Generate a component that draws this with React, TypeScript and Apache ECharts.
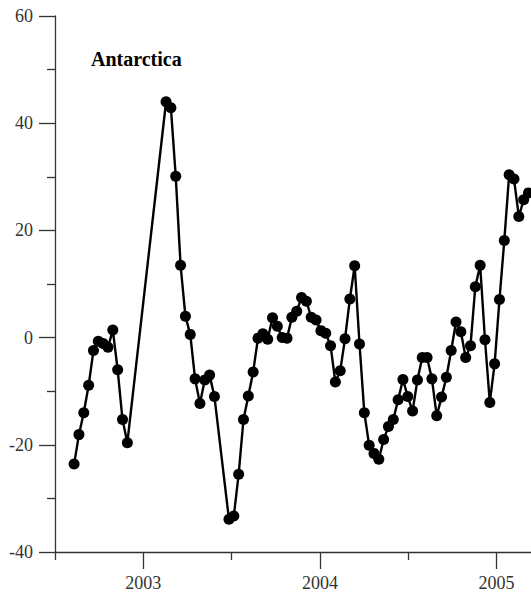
import React, { useEffect, useRef } from "react";
import * as echarts from "echarts";

// Sample dates (10-day spacing; gaps where no data)
const dates: string[] = [
  "2002-08-11", "2002-08-21", "2002-08-31", "2002-09-10", "2002-09-20", "2002-09-30",
  "2002-10-10", "2002-10-20", "2002-10-30", "2002-11-09", "2002-11-19", "2002-11-29",
  "2003-02-17", "2003-02-27", "2003-03-09", "2003-03-19", "2003-03-29", "2003-04-08",
  "2003-04-18", "2003-04-28", "2003-05-08", "2003-05-18", "2003-05-28",
  "2003-06-27", "2003-07-07", "2003-07-17", "2003-07-27", "2003-08-06", "2003-08-16",
  "2003-08-26", "2003-09-05", "2003-09-15", "2003-09-25", "2003-10-05", "2003-10-15",
  "2003-10-25", "2003-11-04", "2003-11-14", "2003-11-24", "2003-12-04", "2003-12-14",
  "2003-12-24", "2004-01-03", "2004-01-13", "2004-01-23", "2004-02-02", "2004-02-12",
  "2004-02-22", "2004-03-03", "2004-03-13", "2004-03-23", "2004-04-02", "2004-04-12",
  "2004-04-22", "2004-05-02", "2004-05-12", "2004-05-22", "2004-06-01", "2004-06-11",
  "2004-06-21", "2004-07-01", "2004-07-11", "2004-07-21", "2004-07-31", "2004-08-10",
  "2004-08-20", "2004-08-30", "2004-09-09", "2004-09-19", "2004-09-29", "2004-10-09",
  "2004-10-19", "2004-10-29", "2004-11-08", "2004-11-18", "2004-11-28", "2004-12-08",
  "2004-12-18", "2004-12-28", "2005-01-07", "2005-01-17", "2005-01-27", "2005-02-06",
  "2005-02-16", "2005-02-26", "2005-03-08",
];

const values: number[] = [
  -23.6, -18.1, -14.0, -8.9, -2.4, -0.7,
  -1.1, -1.8, 1.4, -6.0, -15.3, -19.6,
  44.0, 42.9, 30.1, 13.5, 4.0, 0.6,
  -7.7, -12.3, -7.9, -7.0, -11.0,
  -33.9, -33.3, -25.5, -15.3, -10.9, -6.4,
  -0.1, 0.7, -0.3, 3.7, 2.1, 0.0,
  -0.1, 3.8, 4.9, 7.5, 6.8, 3.8,
  3.3, 1.3, 0.8, -1.5, -8.3, -6.2,
  -0.2, 7.2, 13.4, -1.2, -14.0, -20.1,
  -21.6, -22.7, -19.0, -16.6, -15.3, -11.6,
  -7.8, -11.0, -13.7, -7.9, -3.7, -3.7,
  -7.7, -14.6, -11.1, -7.4, -2.4, 2.9,
  1.1, -3.7, -1.5, 9.5, 13.5, -0.4,
  -12.1, -4.9, 7.1, 18.1, 30.4, 29.6,
  22.6, 25.7, 27.0,
];

const yearTicks: number[] = [2003, 2004, 2005];
const halfYearTicks: number[] = [2002.5, 2003.5, 2004.5];
const titleText = "Antarctica";
const xMin = 2002.5;
const xMax = 2005.195;

function toFractionalYear(d: string): number {
  const [y, m, day] = d.split("-").map(Number);
  const start = Date.UTC(y, 0, 1);
  const end = Date.UTC(y + 1, 0, 1);
  const t = Date.UTC(y, m - 1, day);
  return y + (t - start) / (end - start);
}

const FONT = "'Liberation Serif', 'Times New Roman', serif";
const AXIS_COLOR = "#333";

export default function App() {
  const ref = useRef<HTMLDivElement>(null);
  useEffect(() => {
    if (!ref.current) return;
    const chart = echarts.init(ref.current, null, { renderer: "svg" });
    const data = dates.map((d, i) => [toFractionalYear(d), values[i]]);
    chart.setOption({
      animation: false,
      grid: { left: 55, top: 16, bottom: 42, right: 0, containLabel: false },
      graphic: [
        {
          type: "text",
          x: 91,
          y: 59,
          style: {
            text: titleText,
            font: `bold 20px ${FONT}`,
            fill: "#000",
            textVerticalAlign: "middle",
          },
        },
      ],
      xAxis: [
        {
          type: "value",
          min: xMin,
          max: xMax,
          axisLine: { show: true, onZero: false, lineStyle: { color: AXIS_COLOR, width: 1.3 } },
          splitLine: { show: false },
          axisTick: {
            show: true,
            customValues: yearTicks,
            length: 17,
            lineStyle: { color: AXIS_COLOR, width: 1.3 },
          },
          axisLabel: {
            customValues: yearTicks,
            formatter: (v: number) => String(Math.round(v)),
            margin: 22,
            fontSize: 18,
            fontFamily: FONT,
            color: AXIS_COLOR,
          },
        },
        {
          type: "value",
          min: xMin,
          max: xMax,
          position: "bottom",
          axisLine: { show: false, onZero: false },
          splitLine: { show: false },
          axisTick: {
            show: true,
            customValues: halfYearTicks,
            length: 8,
            lineStyle: { color: AXIS_COLOR, width: 1.3 },
          },
          axisLabel: { show: false },
        },
      ],
      yAxis: {
        type: "value",
        min: -40,
        max: 60,
        interval: 20,
        axisLine: { show: true, onZero: false, lineStyle: { color: AXIS_COLOR, width: 1.3 } },
        splitLine: { show: false },
        axisTick: { show: true, length: 16, lineStyle: { color: AXIS_COLOR, width: 1.3 } },
        minorTick: { show: true, splitNumber: 2, length: 8, lineStyle: { color: AXIS_COLOR, width: 1.3 } },
        minorSplitLine: { show: false },
        axisLabel: {
          margin: 22,
          fontSize: 18,
          fontFamily: FONT,
          color: AXIS_COLOR,
        },
      },
      series: [
        {
          type: "line",
          xAxisIndex: 0,
          data,
          symbol: "circle",
          symbolSize: 11,
          showAllSymbol: true,
          itemStyle: { color: "#000" },
          lineStyle: { color: "#000", width: 2.4 },
          clip: false,
        },
      ],
    });
    return () => chart.dispose();
  }, []);
  return (
    <div
      ref={ref}
      style={{ position: "absolute", left: 0, top: 0, width: 531, height: 594 }}
    />
  );
}
